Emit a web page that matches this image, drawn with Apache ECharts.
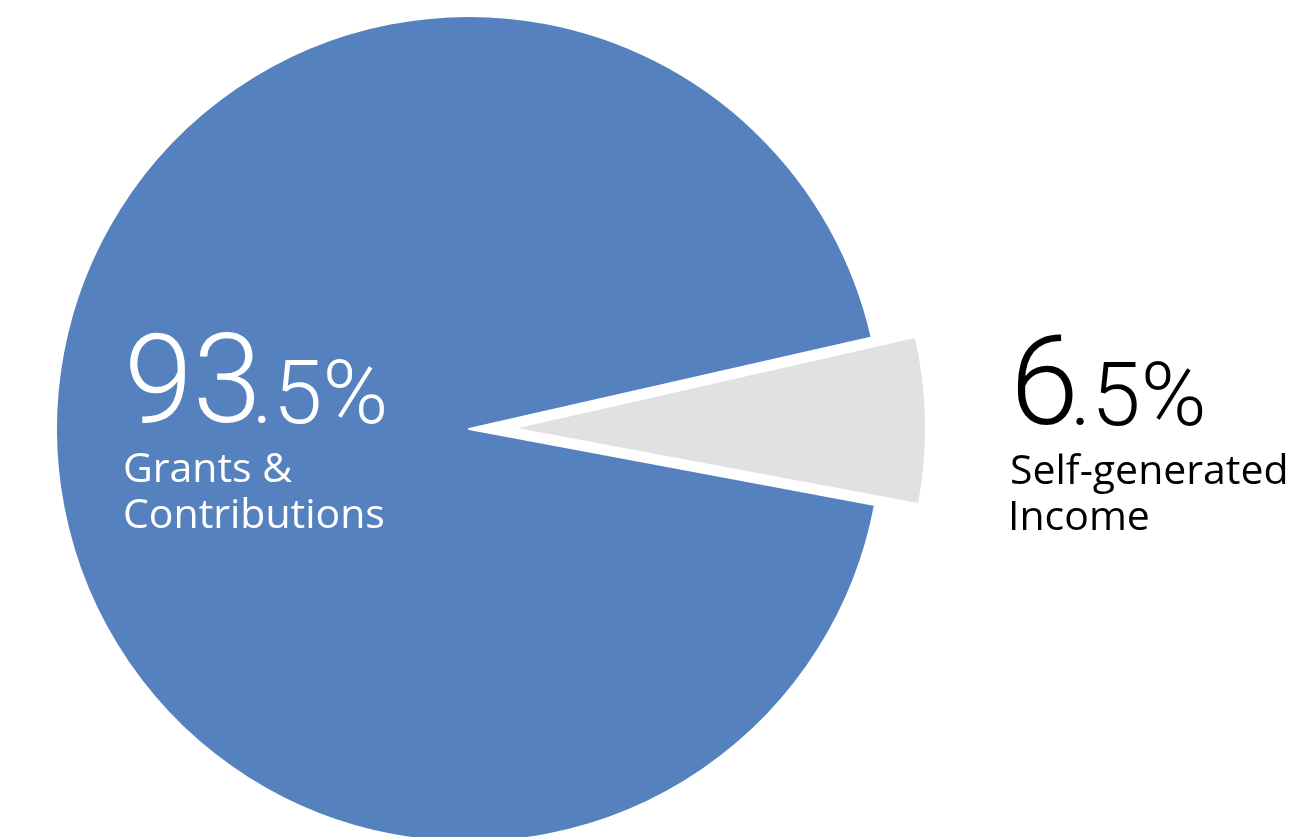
<!DOCTYPE html>
<html><head><meta charset="utf-8">
<script src="https://cdn.jsdelivr.net/npm/echarts@6/dist/echarts.min.js"></script>
<style>html,body{margin:0;padding:0;background:#fff}#c{width:1311px;height:837px}</style>
</head><body><div id="c"></div>
<script>
const categories = ['Self-generated Income', 'Grants & Contributions'];
const values = [6.5, 93.5];
const labelLines = [['Self-generated', 'Income'], ['Grants &', 'Contributions']];
const colors = ['#E0E1E3', '#5581BE'];

const chart = echarts.init(document.getElementById('c'));
const BIG = 'Roboto';
const SMALL = '"Open Sans"';
function big(v){ const s = v.toFixed(1); const i = s.indexOf('.'); return [s.slice(0,i), s.slice(i)+'%']; }
const cv = document.createElement('canvas').getContext('2d');
// place text so that its ink starts at inkLeft and its alphabetic baseline sits at baseY
function placed(text, font, size, inkLeft, baseY, color){
  cv.font = font; cv.textBaseline = 'middle'; cv.textAlign = 'left';
  const m = cv.measureText(text);
  const h = cv.measureText('H');
  const baseOff = size/2 + h.actualBoundingBoxDescent;
  const x = inkLeft + m.actualBoundingBoxLeft;
  return {el:{type:'text', z:100, x:x, y:baseY-baseOff, style:{text:text, fill:color, font:font, verticalAlign:'top', align:'left'}},
          inkRight: x + m.actualBoundingBoxRight};
}

function labelGraphics(idx, inkLeft, baseY, color, sub){
  const [a, b] = big(values[idx]);
  const sA = 124, sB = 89, sC = 41;
  const fA = '300 '+sA+'px '+BIG, fB = '300 '+sB+'px '+BIG, fC = '400 '+sC+'px '+SMALL;
  const g = [];
  const pa = placed(a, fA, sA, inkLeft, baseY, color); g.push(pa.el);
  const pb = placed(b, fB, sB, pa.inkRight+3, baseY+1, color); g.push(pb.el);
  labelLines[idx].forEach((t,k)=>{
    g.push(placed(t, fC, sC, sub, baseY+59+k*46, color).el);
  });
  return g;
}

chart.setOption({
  animation:false,
  series:[{
    type:'pie',
    center:[469, 429],
    radius:[0, 413],
    startAngle:12.8,
    clockwise:true,
    selectedMode:'single',
    selectedOffset:44,
    label:{show:false},
    labelLine:{show:false},
    emphasis:{disabled:true},
    itemStyle:{borderColor:'#fff', borderWidth:2},
    data: categories.map((c,i)=>({name:c, value:values[i], selected:i===0, itemStyle:{color:colors[i]}}))
  }],
  graphic: labelGraphics(1, 130, 423, '#ffffff', 125).concat(labelGraphics(0, 1017, 425, '#000000', 1012))
});
</script></body></html>
